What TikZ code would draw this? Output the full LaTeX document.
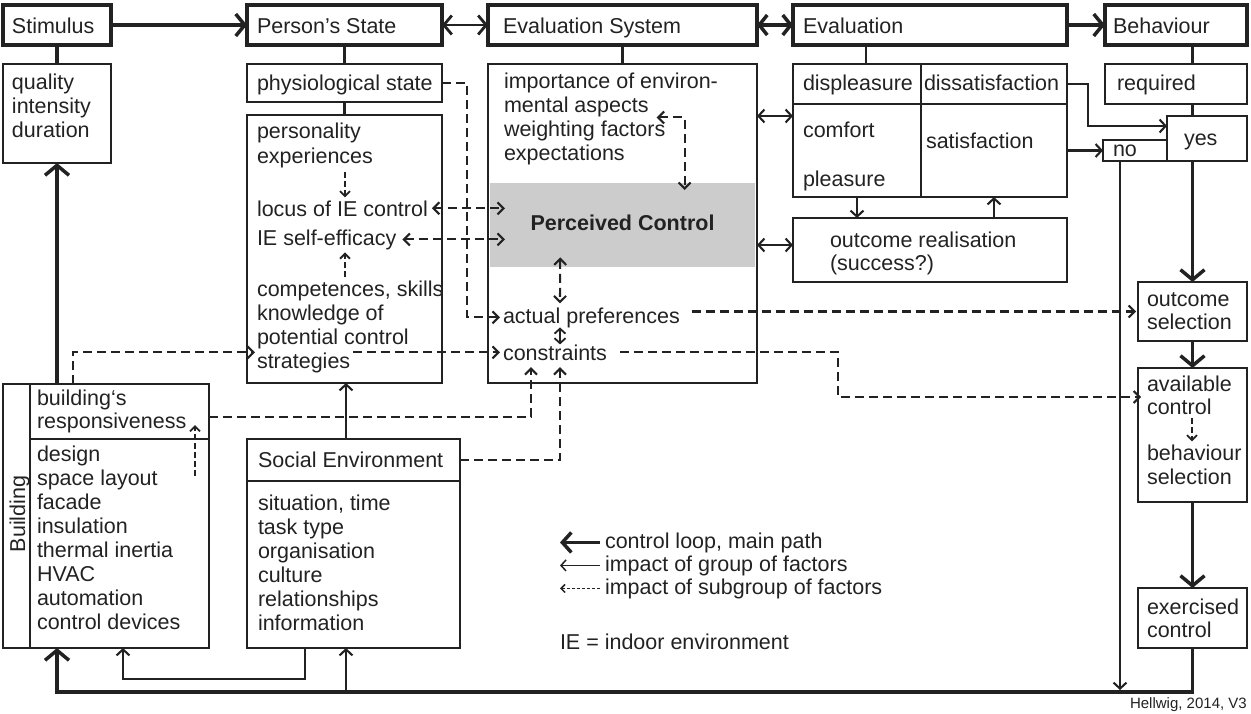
\documentclass[tikz,border=0pt]{standalone}
\usepackage{fontspec}
\setmainfont{Liberation Sans}
\usetikzlibrary{arrows.meta}
\newcommand{\fs}{\fontsize{21.5}{24}\selectfont}
\newcommand{\fsm}{\fontsize{15}{17}\selectfont}
\definecolor{ink}{HTML}{222222}
\begin{document}
\begin{tikzpicture}[x=1pt,y=-1pt,color=ink,
  hdr/.style={draw, line width=3.5pt, anchor=north west, inner sep=0pt, outer sep=0pt},
  sub/.style={draw, line width=2.1pt, anchor=north west, inner sep=0pt, outer sep=0pt},
  txt/.style={inner sep=0pt, outer sep=0pt, anchor=base west, font=\fs},
  mainln/.style={line width=3.5pt},
  mainarr/.style={line width=3.5pt, -{Straight Barb[length=10pt,width=24pt]}},
  hdrarr/.style={line width=3.5pt, -{Straight Barb[length=9pt,width=22pt]}},
  hdrdbl/.style={line width=3.5pt, {Straight Barb[length=8pt,width=20pt]}-{Straight Barb[length=8pt,width=20pt]}},
  meddbl/.style={line width=2.8pt, {Straight Barb[length=8pt,width=19pt]}-{Straight Barb[length=8pt,width=19pt]}},
  thinln/.style={line width=2.1pt},
  thinarr/.style={line width=2.1pt, -{Straight Barb[length=6pt,width=13pt]}},
  legthin/.style={line width=1.5pt, -{Straight Barb[length=5pt,width=11pt]}},
  dblarr/.style={line width=2.1pt, {Straight Barb[length=6pt,width=13pt]}-{Straight Barb[length=6pt,width=13pt]}},
  tinydbl/.style={line width=1.8pt, {Straight Barb[length=5pt,width=11pt]}-{Straight Barb[length=5pt,width=11pt]}},
  dashln/.style={line width=2.1pt, dash pattern=on 9pt off 5pt},
  dasharr/.style={dashln, -{Straight Barb[length=6pt,width=12pt]}},
  dashdbl/.style={dashln, {Straight Barb[length=6pt,width=12pt]}-{Straight Barb[length=6pt,width=12pt]}},
  dashsm/.style={line width=1.8pt, dash pattern=on 6pt off 3pt, -{Straight Barb[length=5pt,width=10pt]}},
  dashleg/.style={line width=1.5pt, dash pattern=on 3pt off 2pt, -{Straight Barb[length=4pt,width=8pt]}},
  legthick/.style={line width=3.5pt, -{Straight Barb[length=9pt,width=20pt]}}
]
\useasboundingbox (0,0) rectangle (1251,713);
\coordinate (loopy) at (0,692);

% ---------- boxes ----------
\node[hdr, minimum width=108pt, minimum height=40pt] (stim) at (3,5) {};
\node[hdr, minimum width=195pt, minimum height=40pt] (pstate) at (247,5) {};
\node[hdr, minimum width=269pt, minimum height=40pt] (esys) at (488,5) {};
\node[hdr, minimum width=274pt, minimum height=40pt] (evalh) at (793,5) {};
\node[hdr, minimum width=142pt, minimum height=40pt] (behav) at (1105,5) {};

\node[sub, minimum width=108pt, minimum height=99pt] (stimsub) at (3,64) {};
\node[sub, minimum width=195pt, minimum height=38pt] (phys) at (247,64) {};
\node[sub, minimum width=195pt, minimum height=268pt] (pbig) at (247,115) {};
\node[sub, minimum width=269pt, minimum height=319pt] (esub) at (488,64) {};
\node[anchor=north west, fill=gray!40, inner sep=0pt, minimum width=265pt, minimum height=84pt] (pc) at (490,183) {};
\node[sub, minimum width=128pt, minimum height=40pt] (disp) at (793,64) {};
\node[sub, minimum width=146pt, minimum height=40pt] (dissat) at (921,64) {};
\node[sub, minimum width=128pt, minimum height=93pt] (comf) at (793,104) {};
\node[sub, minimum width=146pt, minimum height=93pt] (sat) at (921,104) {};
\node[sub, minimum width=274pt, minimum height=64pt] (outreal) at (793,218) {};
\node[sub, minimum width=142pt, minimum height=40pt] (req) at (1105,64) {};
\node[sub, minimum width=80pt, minimum height=45pt] (yes) at (1167,116) {};
\node[sub, minimum width=64pt, minimum height=21pt] (no) at (1103,140) {};
\node[sub, minimum width=109pt, minimum height=59pt] (outsel) at (1138,282) {};
\node[sub, minimum width=109pt, minimum height=134pt] (avail) at (1138,368) {};
\node[sub, minimum width=109pt, minimum height=60pt] (exer) at (1138,588) {};
\node[sub, minimum width=206pt, minimum height=264pt] (bldg) at (3,384) {};
\node[sub, minimum width=179pt, minimum height=55pt] (bresp) at (30,384) {};
\node[sub, minimum width=179pt, minimum height=209pt] (blist) at (30,439) {};
\node[sub, minimum width=213pt, minimum height=42pt] (shead) at (247,439) {};
\node[sub, minimum width=213pt, minimum height=167pt] (slist) at (247,481) {};

% ---------- texts ----------
\node[txt] (stimT) at (12,33) {Stimulus};
\node[txt] (pstateT) at (257,33) {Person’s State};
\node[txt] (esysT) at (503,33) {Evaluation System};
\node[txt] (evalT) at (803,33) {Evaluation};
\node[txt] (behavT) at (1113,33) {Behaviour};

\node[txt] (q1) at (12,89) {quality};
\node[txt] (q2) at (12,113) {intensity};
\node[txt] (q3) at (12,137) {duration};

\node[txt] (physT) at (257,90) {physiological state};
\node[txt] (pers) at (257,138) {personality};
\node[txt] (exper) at (257,163) {experiences};
\node[txt] (locus) at (257,216) {locus of IE control};
\node[txt] (selfeff) at (257,245) {IE self-efficacy};
\node[txt] (comp) at (257,296) {competences, skills};
\node[txt] (know) at (257,320) {knowledge of};
\node[txt] (pot) at (257,344) {potential control};
\node[txt] (strat) at (257,368) {strategies};

\node[txt] (imp) at (504,88) {importance of environ-};
\node[txt] (ma) at (504,112) {mental aspects};
\node[txt] (wf) at (504,136) {weighting factors};
\node[txt] (expc) at (504,160) {expectations};
\node[txt, anchor=base, font=\fs\bfseries] (pcT) at (622.5,230) {Perceived Control};
\node[txt] (ap) at (503,323) {actual preferences};
\node[txt] (cons) at (503,360) {constraints};

\node[txt] (dispT) at (803,90) {displeasure};
\node[txt] (dissatT) at (924,90) {dissatisfaction};
\node[txt] (comfT) at (803,137) {comfort};
\node[txt] (satT) at (926,148) {satisfaction};
\node[txt] (pleasT) at (803,186) {pleasure};
\node[txt] (or1) at (830,247) {outcome realisation};
\node[txt] (or2) at (830,270) {(success?)};

\node[txt] (reqT) at (1117,90) {required};
\node[txt] (yesT) at (1184,145) {yes};
\node[txt] (noT) at (1113,156) {no};
\node[txt] (os1) at (1147,306) {outcome};
\node[txt] (os2) at (1147,329) {selection};
\node[txt] (av1) at (1147,391) {available};
\node[txt] (av2) at (1147,414) {control};
\node[txt] (av3) at (1147,460) {behaviour};
\node[txt] (av4) at (1147,484) {selection};
\node[txt] (ex1) at (1147,614) {exercised};
\node[txt] (ex2) at (1147,637) {control};

\node[txt, anchor=base, rotate=90] (bldgT) at (25,514) {Building};
\node[txt] (br1) at (37,405) {building‘s};
\node[txt] (br2) at (37,428) {responsiveness};
\foreach \t [count=\i from 0] in {design,space layout,facade,insulation,thermal inertia,HVAC,automation,control devices}
  \node[txt] (bl\i) at (37,461+24*\i) {\t};

\node[txt] (seT) at (258,467) {Social Environment};
\foreach \t [count=\i from 0] in {{situation, time},task type,organisation,culture,relationships,information}
  \node[txt] (sl\i) at (258,510+24*\i) {\t};

\node[txt] (lg1) at (605,548) {control loop, main path};
\node[txt] (lg2) at (605,571) {impact of group of factors};
\node[txt] (lg3) at (605,594) {impact of subgroup of factors};
\node[txt] (lg4) at (560,649) {IE = indoor environment};
\node[inner sep=0pt, anchor=base east, font=\fsm] (hell) at (1247,708) {Hellwig, 2014, V3};

% ---------- header connectors ----------
\draw[hdrarr] (stim.east) -- (pstate.west);
\draw[meddbl] (pstate.east) -- (esys.west);
\draw[hdrdbl] (esys.east) -- (evalh.west);
\draw[hdrarr] (evalh.east) -- (behav.west);

\draw[mainln] (stim.south) -- (stimsub.north);
\draw[thinln] (pstate.south) -- (phys.north);
\draw[thinln] (phys.south) -- (pbig.north);
\draw[thinln] (esys.south) -- (esub.north);
\draw[thinln] ([xshift=9pt]disp.north) -- ([xshift=9pt]disp.north |- evalh.south);
\draw[mainln] (outsel.north |- behav.south) -- (outsel.north |- req.north);
\draw[mainln] (outsel.north |- req.south) -- (outsel.north |- yes.north);

% ---------- behaviour chain ----------
\draw[mainarr] (outsel.north |- yes.south) -- (outsel.north);
\draw[mainarr] (outsel.south) -- (avail.north);
\draw[mainarr] (avail.south) -- (exer.north);
\draw[mainarr] (exer.south) |- (stimsub.south |- loopy) -- (stimsub.south |- blist.south);
\draw[mainarr] (stimsub.south |- bldg.north) -- (stimsub.south);

\draw[thinarr] (dissat.east) -- ++(21,0) |- ([yshift=-10pt]yes.north west);
\draw[thinarr] (sat.east |- no.west) -- (no.west);
\draw[thinarr] ([xshift=-15pt]no.south) -- ([xshift=-15pt,yshift=2pt]no.south |- loopy);

% ---------- evaluation ----------
\draw[dblarr] ([yshift=-52pt]esub.north east) -- ([yshift=-52pt]esub.north east -| comf.west);
\draw[dblarr] ([yshift=5pt]outreal.west -| esub.east) -- ([yshift=5pt]outreal.west);
\draw[thinarr] (comf.south) -- (comf.south |- outreal.north);
\draw[thinarr] (sat.south |- outreal.north) -- (sat.south);

% ---------- social / building ----------
\draw[thinarr] ([xshift=-7.5pt]shead.north) -- ([xshift=-7.5pt]shead.north |- pbig.south);
\draw[thinarr] ([xshift=-7.5pt]slist.south |- loopy) -- ([xshift=-7.5pt]slist.south);
\draw[thinarr] ([xshift=-48.5pt]slist.south) -- ++(0,31) -| ([xshift=3.5pt]blist.south);

% ---------- dashed impacts ----------
\draw[dasharr] (phys.east) -- ++(25,0) |- ([xshift=-3pt]ap.west);
\draw[dashdbl] ([xshift=4pt]locus.east) -- ([xshift=15pt]locus.east -| pc.west);
\draw[dashdbl] ([xshift=6pt]selfeff.east) -- ([xshift=15pt]selfeff.east -| pc.west);
\draw[dashdbl] ([xshift=8pt,yshift=-11pt]ma.east) -| ([xshift=62pt,yshift=-7pt]pc.north);
\draw[dashdbl] ([xshift=-62.5pt,yshift=10pt]pc.south) -- ([xshift=57pt,yshift=4pt]ap.north west);
\draw[tinydbl] ([xshift=57pt]ap.south west) -- ([xshift=57pt]cons.north west);
\draw[dasharr] ([xshift=3pt]strat.east |- cons.west) -- ([xshift=-3pt]cons.west);
\draw[dasharr] ([xshift=43pt]bresp.north west) |- ([xshift=-2pt]strat.west |- cons.west);
\draw[dasharr] ([yshift=-5.5pt]bresp.east) -| ([xshift=28pt,yshift=-7pt]cons.south west);
\draw[dasharr] (shead.east) -| ([xshift=57pt,yshift=-7pt]cons.south west);
\draw[dasharr] ([xshift=12pt]ap.east |- outsel.west) -- ([xshift=-2pt]outsel.west);
\draw[dasharr] ([xshift=13pt]cons.east) -- ++(218,0) |- ([xshift=3pt,yshift=-29pt]avail.north west);
\draw[dashsm] ([xshift=-14pt,yshift=-37pt]bresp.south east) -- ([xshift=-14pt,yshift=14pt]bresp.south east);
\draw[dashsm] ([xshift=88pt,yshift=-5pt]exper.south west) -- ([xshift=88pt,yshift=3pt]locus.north west);
\draw[dashsm] ([xshift=88pt,yshift=3pt]comp.north west) -- ([xshift=88pt,yshift=-3pt]selfeff.south west);
\draw[dashsm] ([xshift=45pt,yshift=-4pt]av2.south west) -- ([xshift=45pt,yshift=3pt]av3.north west);

% ---------- legend ----------
\draw[legthick] ([xshift=-5pt]lg1.west) -- ++(-40,0);
\draw[legthin] ([xshift=-5pt]lg2.west) -- ++(-40,0);
\draw[dashleg] ([xshift=-5pt]lg3.west) -- ++(-40,0);
\end{tikzpicture}
\end{document}
